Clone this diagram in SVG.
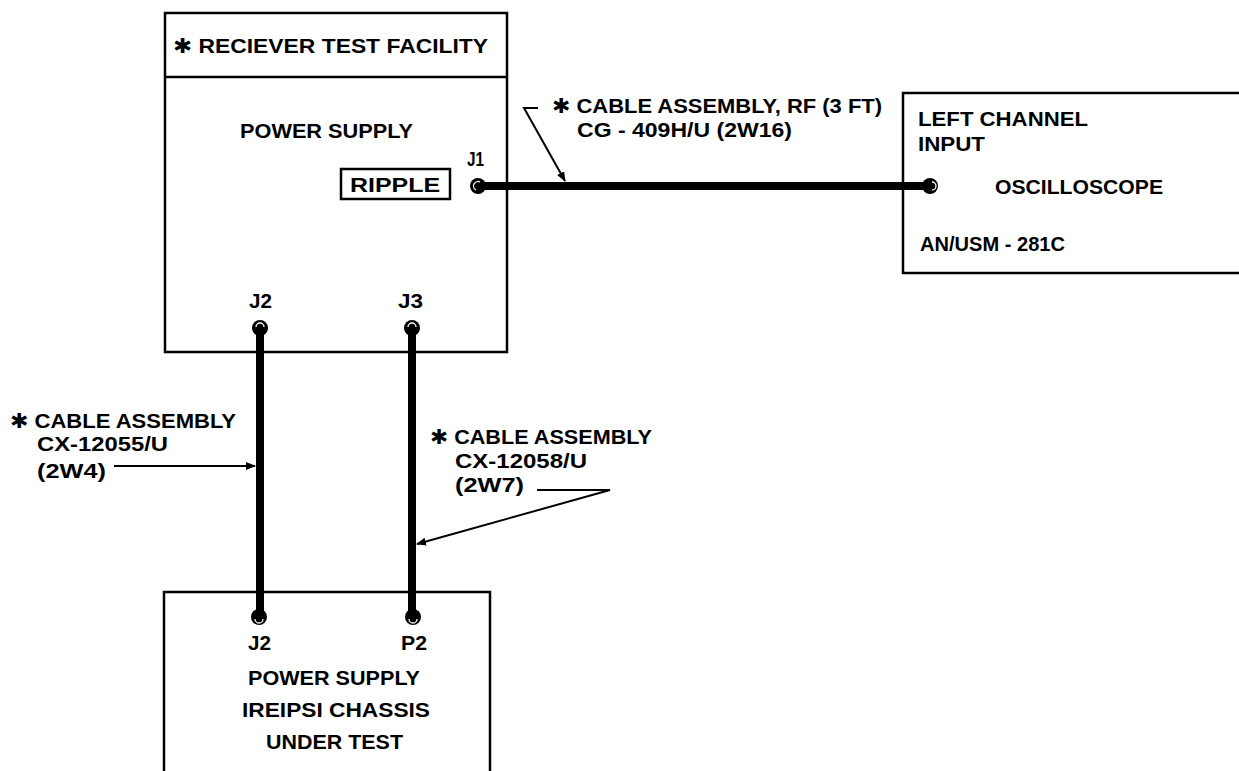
<svg xmlns="http://www.w3.org/2000/svg" width="1239" height="771" viewBox="0 0 1239 771">
<style>
.box{fill:none;stroke:#000;stroke-width:2.5}
.t{font-family:"Liberation Sans",Arial,sans-serif;font-weight:bold;font-size:20.5px;fill:#000}
.star{font-family:"DejaVu Sans",sans-serif}
.cable{stroke:#000;stroke-width:8;fill:none}
.lead{stroke:#000;stroke-width:2;fill:none}
.pin{fill:#000}
.pinhl{fill:none;stroke:#fff;stroke-width:1.3}
</style>
<defs>
<marker id="ah" viewBox="0 0 10 10" refX="9" refY="5" markerWidth="5" markerHeight="5" orient="auto" markerUnits="strokeWidth">
<path d="M0,1 L10,5 L0,9 Z" fill="#000"/>
</marker>
</defs>

<g id="receiver-test-facility">
<rect class="box" x="165" y="13" width="342" height="339"/>
<line class="box" x1="165" y1="77" x2="507" y2="77"/>
<text class="t" x="173" y="53" textLength="315" lengthAdjust="spacingAndGlyphs"><tspan class="star">✱</tspan> RECIEVER  TEST FACILITY</text>
<text class="t" x="240" y="138" textLength="173" lengthAdjust="spacingAndGlyphs">POWER SUPPLY</text>
<rect class="box" x="341" y="169" width="109" height="30"/>
<text class="t" x="350" y="192" textLength="90" lengthAdjust="spacingAndGlyphs">RIPPLE</text>
<text class="t" x="467" y="166" textLength="17" lengthAdjust="spacingAndGlyphs">J1</text>
<text class="t" x="249" y="308" textLength="23" lengthAdjust="spacingAndGlyphs">J2</text>
<text class="t" x="398" y="308" textLength="25" lengthAdjust="spacingAndGlyphs">J3</text>
</g>

<g id="oscilloscope">
<path class="box" d="M1239,93 L903,93 L903,273 L1239,273"/>
<text class="t" x="918" y="126" textLength="170" lengthAdjust="spacingAndGlyphs">LEFT CHANNEL</text>
<text class="t" x="918" y="151" textLength="67" lengthAdjust="spacingAndGlyphs">INPUT</text>
<text class="t" x="995" y="194" textLength="168" lengthAdjust="spacingAndGlyphs">OSCILLOSCOPE</text>
<text class="t" x="920" y="251" textLength="145" lengthAdjust="spacingAndGlyphs">AN/USM - 281C</text>
</g>

<g id="chassis-under-test">
<path class="box" d="M164,771 L164,592 L490,592 L490,771"/>
<text class="t" x="248" y="650" textLength="23" lengthAdjust="spacingAndGlyphs">J2</text>
<text class="t" x="401" y="650" textLength="26" lengthAdjust="spacingAndGlyphs">P2</text>
<text class="t" x="248" y="685" textLength="172" lengthAdjust="spacingAndGlyphs">POWER SUPPLY</text>
<text class="t" x="242" y="717" textLength="188" lengthAdjust="spacingAndGlyphs">IREIPSI CHASSIS</text>
<text class="t" x="266" y="749" textLength="137" lengthAdjust="spacingAndGlyphs">UNDER TEST</text>
</g>

<g id="connectors">
<line class="cable" x1="478" y1="186" x2="930" y2="186"/>
<line class="cable" x1="260" y1="328" x2="260" y2="617"/>
<line class="cable" x1="412" y1="328" x2="412" y2="617"/>
<circle class="pin" cx="478" cy="186" r="8"/>
<path class="pinhl" d="M476,190 A4,4 0 0 1 480,182"/>
<circle class="pin" cx="930" cy="186" r="8"/>
<path class="pinhl" d="M932,182 A4,4 0 0 1 932,190"/>
<circle class="pin" cx="260" cy="328" r="8"/>
<path class="pinhl" d="M256,327 A4,4 0 0 1 264,327"/>
<circle class="pin" cx="412" cy="328" r="8"/>
<path class="pinhl" d="M408,327 A4,4 0 0 1 416,327"/>
<circle class="pin" cx="259" cy="617" r="8"/>
<path class="pinhl" d="M255,619 A4,4 0 0 0 263,619"/>
<circle class="pin" cx="413" cy="617" r="8"/>
<path class="pinhl" d="M409,619 A4,4 0 0 0 417,619"/>

<polyline class="lead" points="538,108 524,108 565,181" marker-end="url(#ah)"/>
<line class="lead" x1="114" y1="466" x2="255" y2="466" marker-end="url(#ah)"/>
<polyline class="lead" points="537,490 610,490 417,544" marker-end="url(#ah)"/>
</g>

<g id="cable-labels">
<text class="t" x="552" y="113" textLength="330" lengthAdjust="spacingAndGlyphs"><tspan class="star">✱</tspan> CABLE ASSEMBLY, RF (3 FT)</text>
<text class="t" x="577" y="137" textLength="215" lengthAdjust="spacingAndGlyphs">CG - 409H/U (2W16)</text>
<text class="t" x="10" y="428" textLength="226" lengthAdjust="spacingAndGlyphs"><tspan class="star">✱</tspan> CABLE ASSEMBLY</text>
<text class="t" x="37" y="451" textLength="131" lengthAdjust="spacingAndGlyphs">CX-12055/U</text>
<text class="t" x="37" y="478" textLength="69" lengthAdjust="spacingAndGlyphs">(2W4)</text>
<text class="t" x="430" y="444" textLength="222" lengthAdjust="spacingAndGlyphs"><tspan class="star">✱</tspan> CABLE ASSEMBLY</text>
<text class="t" x="455" y="468" textLength="132" lengthAdjust="spacingAndGlyphs">CX-12058/U</text>
<text class="t" x="455" y="492" textLength="69" lengthAdjust="spacingAndGlyphs">(2W7)</text>
</g>
</svg>
